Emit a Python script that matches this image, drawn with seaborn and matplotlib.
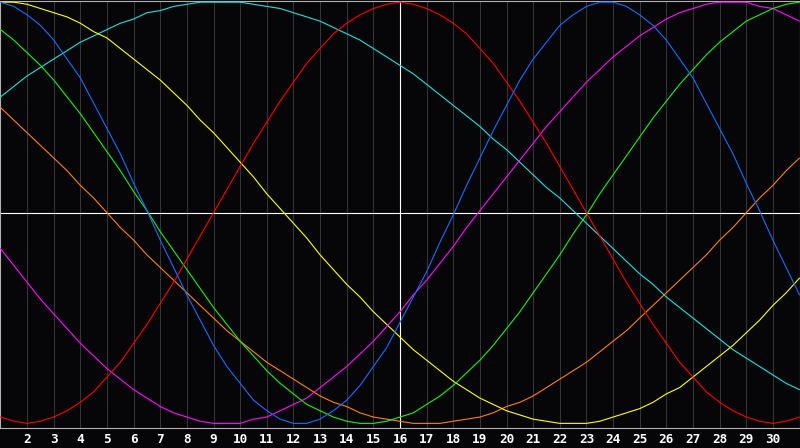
import numpy as np
import pandas as pd
import matplotlib
matplotlib.use("Agg")
import matplotlib.pyplot as plt
import seaborn as sns

# Days shown on the chart, sampled every half day (1, 1.5, ..., 31)
days = [d / 2 for d in range(2, 63)]
tick_days = list(range(2, 31))

# Cycle values (x100) for each half day
physical = [100, 98, 94, 89, 82, 73, 64, 52, 40, 28, 14, 1, -13, -26, -39, -51,
            -63, -73, -81, -89, -94, -98, -100, -100, -98, -94, -89, -82, -73, -64,
            -52, -40, -28, -14, -1, 13, 26, 39, 51, 63, 73, 81, 89, 94, 98, 100,
            100, 98, 94, 89, 82, 73, 64, 52, 40, 28, 14, 1, -13, -26, -39]
emotional = [-97, -99, -100, -99, -97, -94, -90, -85, -78, -71, -62, -53, -43, -33,
             -22, -11, 0, 11, 22, 33, 43, 53, 62, 71, 78, 85, 90, 94, 97, 99, 100,
             99, 97, 94, 90, 85, 78, 71, 62, 53, 43, 33, 22, 11, 0, -11, -22, -33,
             -43, -53, -62, -71, -78, -85, -90, -94, -97, -99, -100, -99, -97]
intellectual = [87, 82, 76, 70, 63, 55, 47, 38, 29, 20, 10, 1, -9, -18, -27, -36,
                -45, -53, -61, -68, -75, -81, -86, -91, -94, -97, -99, -100, -100,
                -99, -97, -95, -91, -87, -82, -76, -70, -63, -55, -47, -38, -29, -20,
                -10, -1, 9, 18, 27, 36, 45, 53, 61, 68, 75, 81, 86, 91, 94, 97, 99, 100]
intuitive = [-17, -25, -33, -41, -48, -55, -62, -68, -74, -79, -84, -88, -92, -95,
             -97, -99, -100, -100, -100, -98, -97, -94, -91, -88, -83, -78, -73, -67,
             -61, -54, -47, -39, -32, -24, -16, -7, 1, 9, 17, 25, 33, 41, 48, 55, 62,
             68, 74, 79, 84, 88, 92, 95, 97, 99, 100, 100, 100, 98, 97, 94, 91]
aesthetic = [100, 100, 99, 97, 95, 93, 90, 86, 83, 78, 73, 68, 63, 57, 51, 44, 38,
             31, 24, 17, 9, 2, -5, -12, -20, -27, -34, -40, -47, -53, -59, -65, -70,
             -75, -80, -84, -88, -91, -94, -96, -98, -99, -100, -100, -100, -99, -97,
             -95, -93, -90, -86, -83, -78, -73, -68, -63, -57, -51, -44, -38, -31]
awareness = [50, 44, 38, 32, 26, 20, 13, 7, 0, -7, -13, -20, -26, -32, -38, -44, -50,
             -56, -61, -66, -71, -75, -79, -83, -87, -90, -92, -95, -97, -98, -99,
             -100, -100, -100, -99, -98, -97, -95, -92, -90, -87, -83, -79, -75, -71,
             -66, -61, -56, -50, -44, -38, -32, -26, -20, -13, -7, 0, 7, 13, 20, 26]
spiritual = [55, 60, 65, 69, 73, 77, 81, 84, 87, 90, 92, 95, 96, 98, 99, 100, 100,
             100, 100, 99, 98, 97, 95, 93, 91, 88, 85, 82, 78, 74, 70, 66, 61, 56, 51,
             46, 41, 35, 30, 24, 18, 12, 7, 1, -5, -11, -17, -23, -29, -34, -40, -45,
             -50, -55, -60, -65, -69, -73, -77, -81, -84]

cycle_names = ["Spiritual", "Awareness", "Aesthetic", "Intuitive",
               "Intellectual", "Emotional", "Physical"]
cycle_values = [spiritual, awareness, aesthetic, intuitive,
                intellectual, emotional, physical]
cycle_colors = ["#22e0e0", "#ff8010", "#ffff00", "#ff10ff",
                "#20f010", "#ff0000", "#1a6cff"]

rows = []
for name, vals in zip(cycle_names, cycle_values):
    for d, v in zip(days, vals):
        rows.append({"day": d, "value": v / 100.0, "cycle": name})
df = pd.DataFrame(rows)

sns.set_style("dark")
bg = "#060608"
plt.rcParams["font.family"] = ["DejaVu Sans Mono", "DejaVu Sans"]

fig = plt.figure(figsize=(8, 4.48), dpi=100)
fig.patch.set_facecolor(bg)
ax = fig.add_axes([0.0006, 20 / 448, 0.9988, 427.5 / 448])
ax.set_facecolor(bg)

ax.set_xlim(1, 31)
ax.set_ylim(-1.022, 1.008)

ax.set_xticks(tick_days)
ax.set_xticklabels([str(t) for t in tick_days], color="white",
                   fontweight="bold", fontsize=9.2)
ax.set_yticks([])
ax.tick_params(axis="x", length=0, pad=3.5)
ax.grid(axis="x", color="#363638", linewidth=0.72)
ax.grid(axis="y", visible=False)
ax.axvline(16, color="white", linewidth=0.8, zorder=1.5)
ax.axhline(0, color="white", linewidth=0.8, zorder=1.5)

sns.lineplot(data=df, x="day", y="value", hue="cycle",
             hue_order=cycle_names,
             palette=dict(zip(cycle_names, cycle_colors)),
             legend=False, linewidth=0.8, ax=ax, zorder=3)

ax.set_xlabel("")
ax.set_ylabel("")
for s in ax.spines.values():
    s.set_visible(True)
    s.set_color("#b0b0b0")
    s.set_linewidth(0.8)

fig.savefig("out.png", dpi=100, facecolor=bg)
